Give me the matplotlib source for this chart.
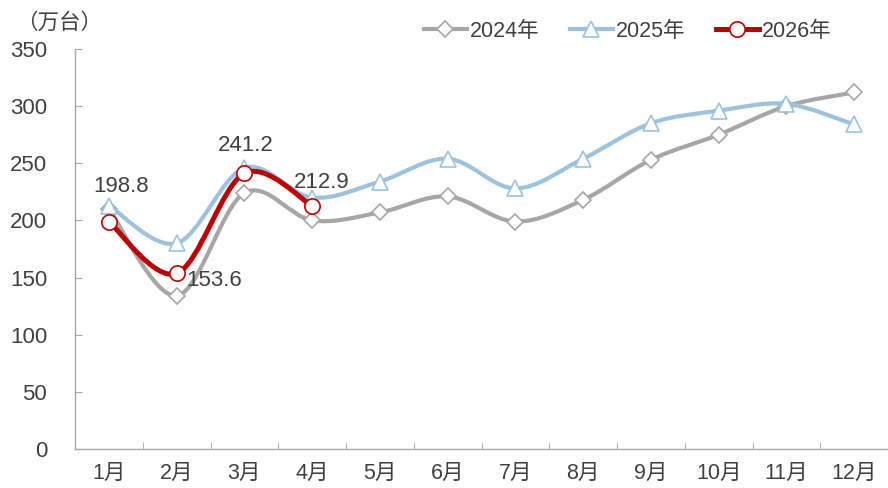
import matplotlib
matplotlib.use("Agg")
import matplotlib.pyplot as plt
from matplotlib.path import Path
from matplotlib.patches import PathPatch
from matplotlib.lines import Line2D

plt.rcParams['font.family'] = ['Liberation Sans', 'Noto Sans CJK SC', 'DejaVu Sans']

months = ['1月', '2月', '3月', '4月', '5月', '6月', '7月', '8月', '9月', '10月', '11月', '12月']
sales_2024 = [210, 134, 224, 200, 207, 221, 199, 218, 253, 275, 300, 312]
sales_2025 = [213, 180, 246, 220, 234, 254, 228, 254, 285, 296, 302, 284]
sales_2026 = [198.8, 153.6, 241.2, 212.9]
labels_2026 = ['198.8', '153.6', '241.2', '212.9']

TEXT = '#404040'
AXIS = '#a6a6a6'


def smooth_path(xs, ys):
    # Excel-style smoothed line: cubic bezier with catmull-rom control points
    pts = list(zip(xs, ys))
    n = len(pts)
    verts = [pts[0]]
    codes = [Path.MOVETO]
    for i in range(n - 1):
        p0 = pts[i - 1] if i > 0 else pts[i]
        p1 = pts[i]
        p2 = pts[i + 1]
        p3 = pts[i + 2] if i + 2 < n else pts[i + 1]
        c1 = (p1[0] + (p2[0] - p0[0]) / 6, p1[1] + (p2[1] - p0[1]) / 6)
        c2 = (p2[0] - (p3[0] - p1[0]) / 6, p2[1] - (p3[1] - p1[1]) / 6)
        verts += [c1, c2, p2]
        codes += [Path.CURVE4] * 3
    return Path(verts, codes)


fig = plt.figure(figsize=(8.88, 4.88), dpi=100)
ax = fig.add_axes([0.0845, 0.080, 0.9155, 0.8196])

series = [
    ('2024年', sales_2024, '#a6a6a6', 'D', 8, 3.0),
    ('2025年', sales_2025, '#9bc2e0', '^', 11, 3.0),
    ('2026年', sales_2026, '#c00000', 'o', 11, 3.6),
]
handles = []
for z, (name, vals, color, marker, ms, lw) in enumerate(series):
    xs = list(range(1, len(vals) + 1))
    patch = PathPatch(smooth_path(xs, vals), facecolor='none', edgecolor=color,
                      lw=lw, capstyle='round', joinstyle='round', zorder=2 + z)
    ax.add_patch(patch)
    ax.plot(xs, vals, linestyle='none', marker=marker, markersize=ms,
            markerfacecolor='white', markeredgecolor=color, markeredgewidth=1.2,
            zorder=2.5 + z)
    handles.append(Line2D([], [], color=color, lw=lw, marker=marker, markersize=ms,
                          markerfacecolor='white', markeredgecolor=color,
                          markeredgewidth=1.2, label=name))

# data labels for 2026
offsets = [((12, 35), 'center'), ((10, -7), 'left'), ((1, 28), 'center'), ((10, 23), 'center')]
for i, (val, txt) in enumerate(zip(sales_2026, labels_2026)):
    (dx, dy), ha = offsets[i]
    ax.annotate(txt, (i + 1, val), xytext=(dx, dy), textcoords='offset pixels',
                ha=ha, va='center', fontsize=16, color=TEXT, zorder=10)

ax.set_xlim(0.5, 12.5)
ax.set_ylim(0, 350)
ax.set_yticks(range(0, 351, 50))
ax.set_xticks(range(1, 13))
ax.set_xticklabels(months)
ax.set_xticks([i + 0.5 for i in range(1, 12)], minor=True)

for s in ['top', 'right']:
    ax.spines[s].set_visible(False)
for s in ['left', 'bottom']:
    ax.spines[s].set_color(AXIS)
    ax.spines[s].set_linewidth(1.0)

ax.tick_params(axis='x', which='major', length=0, pad=10, labelsize=15.5, labelcolor=TEXT)
ax.tick_params(axis='x', which='minor', direction='in', length=5, color=AXIS)
ax.tick_params(axis='y', direction='in', length=5, color=AXIS, pad=20,
               labelsize=16, labelcolor=TEXT)

fig.text(0.018, 0.953, '（万台）', fontsize=15.5, color=TEXT, va='center', ha='left')

fig.legend(handles=handles, loc='center', bbox_to_anchor=(0.707, 0.936), ncol=3,
           frameon=False, fontsize=15.5, labelcolor=TEXT, handlelength=2.0,
           handletextpad=0.15, columnspacing=1.4)

fig.savefig('out.png', dpi=100)
